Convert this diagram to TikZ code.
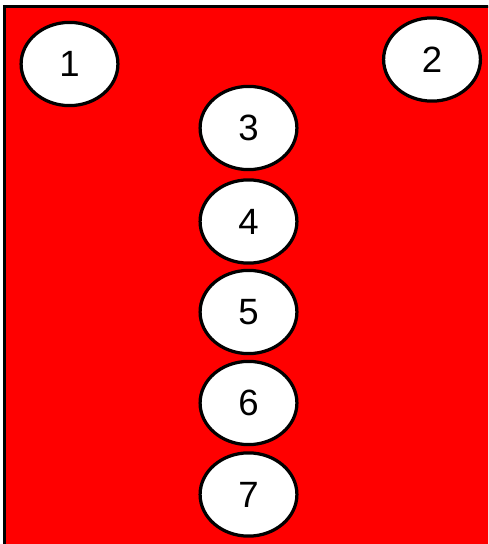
\documentclass[tikz,border=0pt]{standalone}
\usepackage{fontspec}
\setmainfont{Liberation Sans}
\usetikzlibrary{shapes.geometric}
\tikzset{
  blob/.style={ellipse,draw=black,fill=white,line width=2.3pt,inner sep=0pt,
    minimum width=2.42cm,minimum height=2.08cm,font=\fontsize{26}{26}\selectfont}
}
\begin{document}
\begin{tikzpicture}[x=0.025cm,y=-0.025cm]
  \useasboundingbox (0,0) rectangle (488,544);
  \clip (0,0) rectangle (488,544);
  % Red panel
  \draw[line width=2.3pt,fill=red] (4.5,6.5) rectangle (520,580);
  % Top corners
  \node[blob] (n1) at (69.5,64) {1};
  \node[blob] (n2) at (432,59.5) {2};
  % Middle column
  \node[blob] (n3) at (248.5,128) {3};
  \node[blob] (n4) at (248.5,221.5) {4};
  \node[blob] (n5) at (248.5,312) {5};
  \node[blob] (n6) at (248.5,403) {6};
  \node[blob] (n7) at (248.5,494.5) {7};
\end{tikzpicture}
\end{document}
